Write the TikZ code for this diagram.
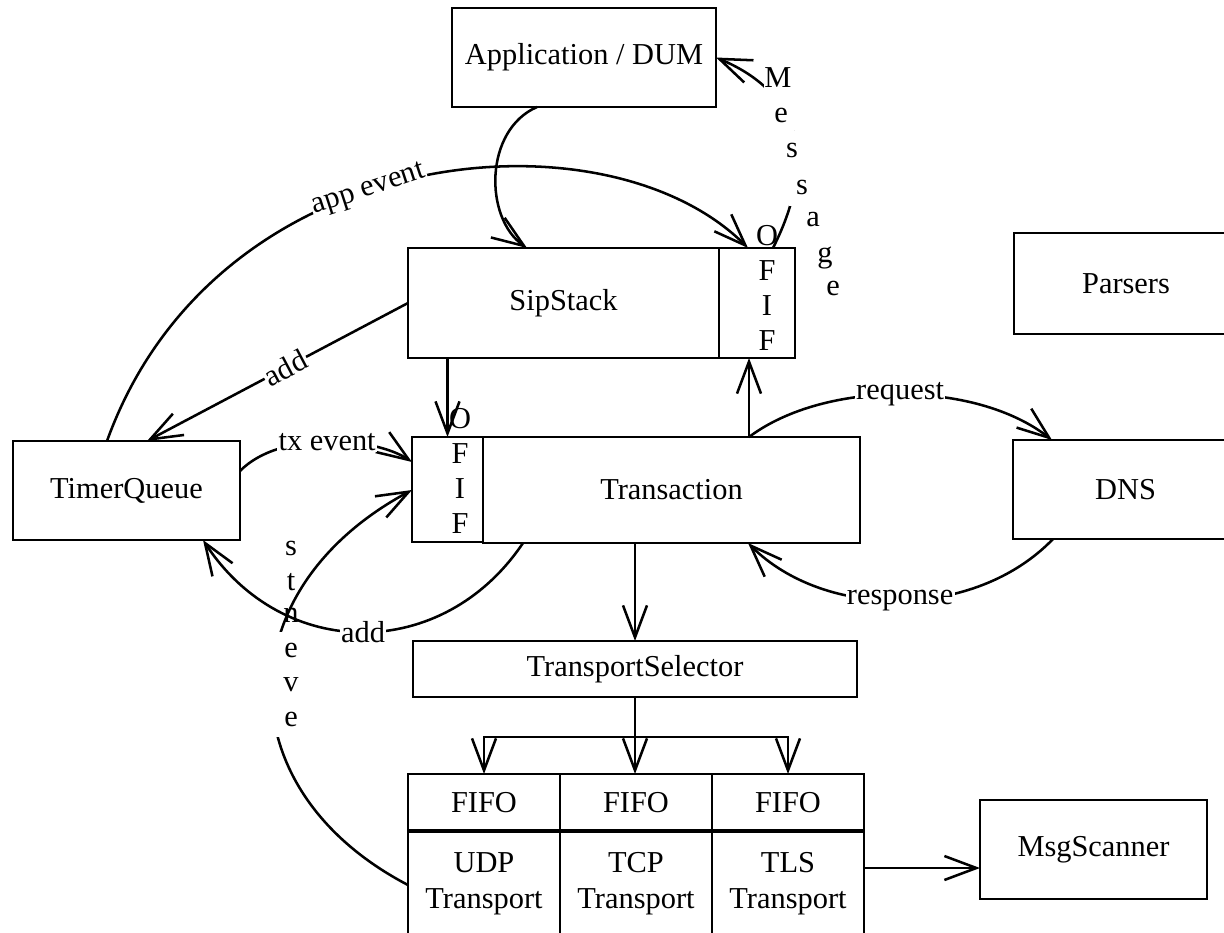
\documentclass[tikz,border=0pt]{standalone}
\usepackage{fontspec}
\setmainfont{Liberation Serif}
\usetikzlibrary{arrows.meta,calc}
\tikzset{
  sz/.style 2 args={minimum width=#1*0.75pt,minimum height=#2*0.75pt},
  box/.style={draw,line width=1.8pt,inner sep=0pt,outer sep=0pt},
  conn/.style={line width=1.9pt,line join=miter},
  arr/.style={conn,-{Straight Barb[length=24pt,width=18pt]}},
  lbl/.style={fill=white,inner sep=1pt},
  vlet/.style={align=center,inner sep=0pt,font=\fontsize{22.8}{26.25}\selectfont},
  let/.style={inner sep=0pt},
  tile/.style={let,fill=white,minimum width=19.5pt,minimum height=29pt},
  wtile/.style={let,fill=white,minimum width=37.5pt,minimum height=27pt}
}
\begin{document}
\begin{tikzpicture}[x=0.75pt,y=-0.75pt,
  every node/.style={font=\fontsize{22.8}{27}\selectfont}]
\fill[white] (0,0) rectangle (1224,932);
\useasboundingbox (0,0) rectangle (1224,932);

% boxes
\node[box,sz={264}{99}] (app) at (584,57.5) {Application / DUM};
\node[box,sz={311}{110}] (sip) at (563.5,303) {SipStack};
\node[box,sz={76}{110}] (sipfifo) at (757,303) {};
\node[vlet] (sipfifotxt) at (767,287.5) {O\\F\\I\\F};
\node[box,sz={224}{101}] (parsers) at (1126,283.5) {Parsers};
\node[box,sz={227}{99}] (timer) at (126.5,490.5) {TimerQueue};
\node[box,sz={71}{105}] (txfifo) at (447.5,489.5) {};
\node[vlet] (txfifotxt) at (460,471) {O\\F\\I\\F};
\node[box,sz={377}{106}] (trans) at (671.5,490) {Transaction};
\node[box,sz={225}{99}] (dns) at (1125.5,489.5) {DNS};
\node[box,sz={444}{56}] (tsel) at (635,669) {TransportSelector};
\node[box,sz={152}{57}] (f1) at (484,802.5) {FIFO};
\node[box,sz={152}{57}] (f2) at (636,802.5) {FIFO};
\node[box,sz={152}{57}] (f3) at (788,802.5) {FIFO};
\node[box,sz={152}{105},align=center] (t1) at (484,883.5) {UDP\\Transport};
\node[box,sz={152}{105},align=center] (t2) at (636,883.5) {TCP\\Transport};
\node[box,sz={152}{105},align=center] (t3) at (788,883.5) {TLS\\Transport};
\draw[line width=3.2pt] (f1.south west) -- (f3.south east);
\node[box,sz={227}{99}] (msg) at (1093.5,849.5) {MsgScanner};

% Application -> SipStack
\draw[arr] ($(app.south west)+(85,0)$) .. controls (484,130) and (484,218) .. ($(sip.north west)+(119,0)$);

% Message: SipStack FIFO -> Application
\draw[arr] ($(sipfifo.north west)+(54,0)$) .. controls (815,165) and (805,95) .. (app.east);
\node[tile] (mM) at (778,78) {M};
\node[tile] (me1) at (781,115) {e};
\node[tile] (ms1) at (792,150) {s};
\node[tile] (ms2) at (802,187) {s};
\node[let] (ma) at (813,220) {a};
\node[let] (mg) at (825,258) {g};
\node[let] (me2) at (833,288) {e};

% app event: TimerQueue -> SipStack FIFO
\draw[arr] ($(timer.north west)+(94,0)$) .. controls (216,139) and (606,106) .. ($(sipfifo.north west)+(29,0)$) node[lbl,pos=0.44,sloped] {app event};

% add: SipStack -> TimerQueue
\draw[arr] (sip.west) -- node[lbl,sloped,pos=0.47] {add} ($(timer.north west)+(134,0)$);

% SipStack -> Transaction FIFO
\draw[arr] (txfifo.north |- sip.south) -- (txfifo.north);

% tx event: TimerQueue -> Transaction FIFO
\draw[arr] ($(timer.north east)+(0,30)$) .. controls (280,430) and (375,437) .. ($(txfifo.north west)+(0,25)$) node[lbl,midway] {tx event};

% events: UDP Transport -> Transaction FIFO
\draw[arr] ($(t1.north west)+(0,54)$) .. controls (226,790) and (226,590) .. ($(txfifo.north west)+(0,53)$);
\node[let] (es) at (291,548) {s};
\node[let] (et) at (291,582) {t};
\node[let] (en) at (291,615) {n};
\node[wtile] (ee1) at (291,650) {e};
\node[wtile] (ev) at (291,685) {v};
\node[wtile] (ee2) at (291,719) {e};

% add: Transaction -> TimerQueue
\draw[arr] ($(trans.south west)+(40,0)$) .. controls (443,662) and (283,662) .. ($(timer.south east)+(-37,0)$) node[lbl,midway] {add};

% Transaction -> SipStack FIFO
\draw[arr] ($(trans.north west)+(266,0)$) -- ($(sipfifo.south west)+(30,0)$);

% request / response
\draw[arr] ($(trans.north west)+(266,0)$) .. controls (825,380) and (975,380) .. ($(dns.north west)+(39,0)$) node[lbl,midway] {request};
\draw[arr] ($(dns.south west)+(40,0)$) .. controls (975,620) and (825,620) .. ($(trans.south west)+(265,0)$) node[lbl,midway] {response};

% Transaction -> TransportSelector
\draw[arr] (tsel.north |- trans.south) -- (tsel.north);

% TransportSelector -> FIFOs
\coordinate (br) at ($(tsel.south)+(0,40)$);
\draw[arr] (tsel.south) -- (tsel.south |- f2.north);
\draw[arr] (br) -- (br -| f1.north) -- (f1.north);
\draw[arr] (br) -- (br -| f3.north) -- (f3.north);

% TLS Transport -> MsgScanner
\coordinate (m0) at ($(t3.north east)+(0,37)$);
\draw[arr] (m0) -- (m0 -| msg.west);
\end{tikzpicture}
\end{document}
